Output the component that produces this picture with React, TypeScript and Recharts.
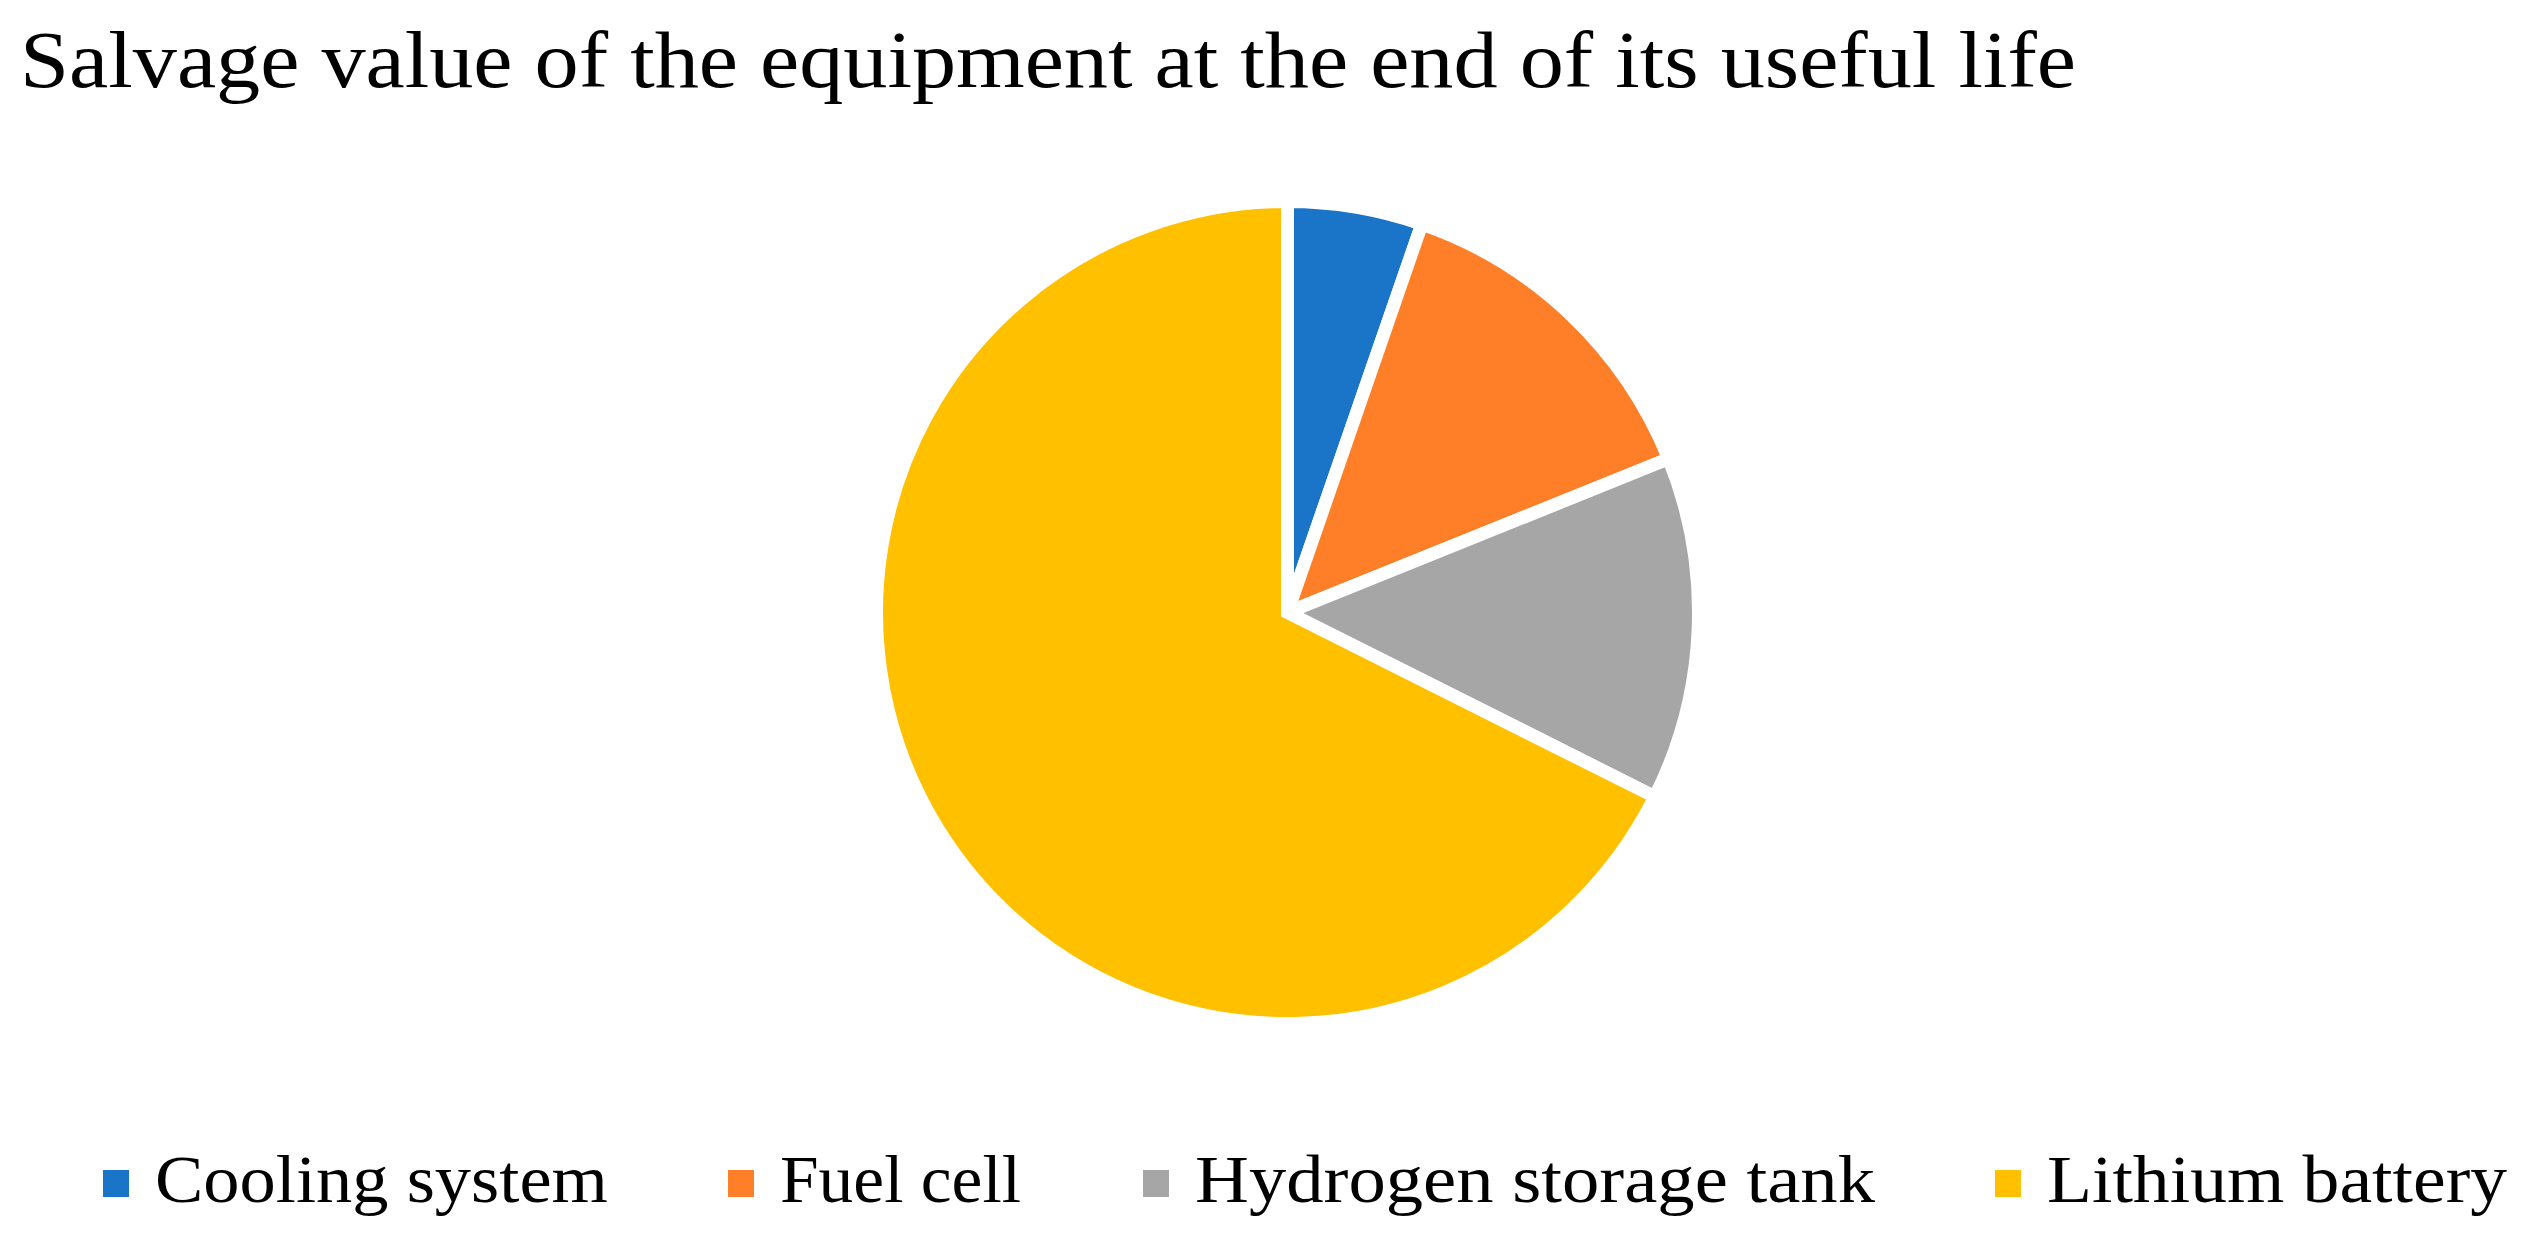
import { PieChart, Pie, Cell } from 'recharts';

const categories = ['Cooling system', 'Fuel cell', 'Hydrogen storage tank', 'Lithium battery'];
const salvageShare = [5.3, 13.6, 13.5, 67.6];
const colors = ['#1a75c9', '#fe7f27', '#a6a6a6', '#ffc000'];
const title = 'Salvage value of the equipment at the end of its useful life';

const W = 2523;
const H = 1237;
const FONT = '"Liberation Serif", "DejaVu Serif", serif';

// legend layout
const legendX = [103, 728, 1143, 1995];
const legendTextW = [453, 241, 680, 460];

export default function App() {
  const data = categories.map((name, i) => ({ name, value: salvageShare[i] }));

  return (
    <div style={{ position: 'fixed', left: 0, top: 0, width: W, height: H, background: '#fff' }}>
      <PieChart width={W} height={H} margin={{ top: 0, right: 0, bottom: 0, left: 0 }}>
        <Pie
          data={data}
          dataKey="value"
          nameKey="name"
          cx={1287.5}
          cy={612.5}
          outerRadius={411}
          startAngle={90}
          endAngle={-270}
          stroke="#ffffff"
          strokeWidth={13}
          isAnimationActive={false}
        >
          {data.map((d, i) => (
            <Cell key={d.name} fill={colors[i]} />
          ))}
        </Pie>
      </PieChart>
      <svg width={W} height={H} style={{ position: 'absolute', left: 0, top: 0, pointerEvents: 'none' }}>
        <text
          x={20}
          y={87}
          fontFamily={FONT}
          fontSize={80}
          fill="#000"
          textLength={2056}
          lengthAdjust="spacingAndGlyphs"
        >
          {title}
        </text>
        {categories.map((c, i) => (
          <g key={c}>
            <rect x={legendX[i]} y={1170} width={26} height={27} fill={colors[i]} />
            <text
              x={legendX[i] + 52}
              y={1202}
              fontFamily={FONT}
              fontSize={68}
              fill="#000"
              textLength={legendTextW[i]}
              lengthAdjust="spacingAndGlyphs"
            >
              {c}
            </text>
          </g>
        ))}
      </svg>
    </div>
  );
}
